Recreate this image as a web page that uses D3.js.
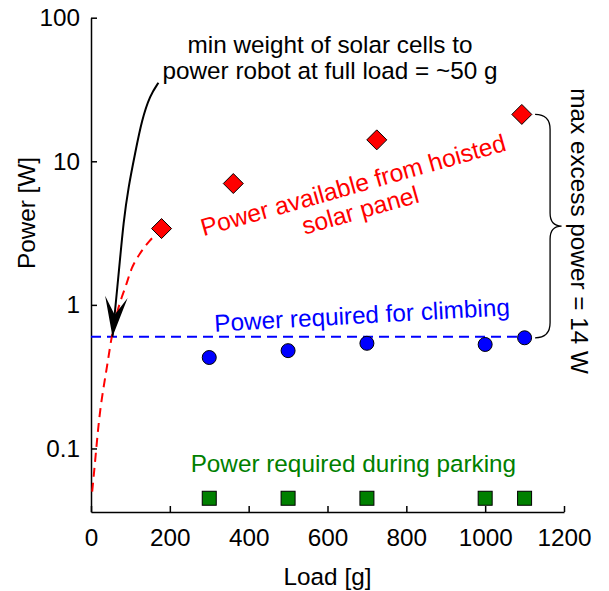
<!DOCTYPE html>
<html>
<head>
<meta charset="utf-8">
<script src="https://cdn.jsdelivr.net/npm/d3@7"></script>
<style>
  html, body { margin: 0; padding: 0; background: #fff; }
  svg text { font-family: "Liberation Sans", Arial, Helvetica, sans-serif; }
</style>
</head>
<body>
<svg id="chart" width="609" height="591"></svg>
<script>
// Solar panel power available vs. load (diamonds)
const solarLoad = [179, 361, 725, 1093];
const solarPower = [3.4, 7.0, 14.1, 21.2];

// Power drawn while climbing (circles) and the required level (dashed line)
const climbLoad = [300, 500, 700, 1000, 1100];
const climbPower = [0.43, 0.48, 0.54, 0.53, 0.59];
const climbLevelLoad = [0, 1100];
const climbLevelPower = [0.6, 0.6];

// Power drawn while parked (squares)
const parkLoad = [300, 500, 700, 1000, 1100];
const parkPower = [0.045, 0.045, 0.045, 0.045, 0.045];

// Solar output vs. solar cell weight (red dashed curve)
const curveLoad = [3, 10, 16, 23, 33, 42, 52, 65, 78, 91, 103, 124, 145, 179];
const curvePower = [0.05, 0.079, 0.12, 0.185, 0.28, 0.39, 0.6, 0.87, 1.14, 1.41, 1.84, 2.28, 2.75, 3.4];

// Axis ticks
const xTicks = [0, 200, 400, 600, 800, 1000, 1200];
const yTicks = [0.1, 1, 10, 100];
const yTickLabels = ["0.1", "1", "10", "100"];

// Callout arrow path (load [g], power [W]) ending at the crossing point
const arrowLoad = [171, 150, 129, 112, 95, 82.4, 72.3, 54.5];
const arrowPower = [35.2, 28.9, 19.4, 11.4, 6.64, 3.77, 1.89, 0.6];

const FONT = 24.3;
const svg = d3.select("#chart");

const x = d3.scaleLinear().domain([0, 1200]).range([91, 564]);
const y = d3.scaleLog().domain([0.0361, 100]).range([512, 17.7]);

// Axes (ticks point inward, no box)
const xAxis = d3.axisBottom(x).tickValues(xTicks).tickFormat(d3.format("d"))
  .tickSizeInner(-6).tickSizeOuter(0).tickPadding(17);
const yAxis = d3.axisLeft(y).tickValues(yTicks).tickFormat((d, i) => yTickLabels[i])
  .tickSizeInner(-6).tickSizeOuter(0).tickPadding(11);

const gx = svg.append("g").attr("transform", "translate(0,512)").call(xAxis);
const gy = svg.append("g").attr("transform", "translate(91,0)").call(yAxis);
[gx, gy].forEach(g => {
  g.selectAll("path, line").attr("stroke", "#000").attr("stroke-width", 1.5);
  g.selectAll("text").attr("fill", "#000").style("font-size", FONT + "px");
});

svg.append("text").attr("x", 327.5).attr("y", 585).attr("text-anchor", "middle")
  .style("font-size", FONT + "px").text("Load [g]");
svg.append("text").attr("transform", "translate(35,213) rotate(-90)")
  .attr("text-anchor", "middle").style("font-size", FONT + "px").text("Power [W]");

// Required climbing power level
const straight = d3.line().x(d => x(d[0])).y(d => y(d[1]));
svg.append("path")
  .datum(climbLevelLoad.map((l, i) => [l, climbLevelPower[i]]))
  .attr("d", straight).attr("fill", "none").attr("stroke", "#0000ff")
  .attr("stroke-width", 2).attr("stroke-dasharray", "10,6");

// Solar output curve
const smooth = d3.line().x(d => x(d[0])).y(d => y(d[1])).curve(d3.curveBasis);
svg.append("path")
  .datum(curveLoad.map((l, i) => [l, curvePower[i]]))
  .attr("d", smooth).attr("fill", "none").attr("stroke", "#ff0000")
  .attr("stroke-width", 2).attr("stroke-dasharray", "9,6");

// Markers
svg.append("g").selectAll("rect")
  .data(parkLoad.map((l, i) => [l, parkPower[i]]))
  .join("rect")
  .attr("x", d => x(d[0]) - 7).attr("y", d => y(d[1]) - 7)
  .attr("width", 14).attr("height", 14)
  .attr("fill", "#008000").attr("stroke", "#000").attr("stroke-width", 1);

svg.append("g").selectAll("circle")
  .data(climbLoad.map((l, i) => [l, climbPower[i]]))
  .join("circle")
  .attr("cx", d => x(d[0])).attr("cy", d => y(d[1])).attr("r", 7)
  .attr("fill", "#0000ff").attr("stroke", "#000").attr("stroke-width", 1);

svg.append("g").selectAll("path")
  .data(solarLoad.map((l, i) => [l, solarPower[i]]))
  .join("path")
  .attr("d", d => {
    const cx = x(d[0]), cy = y(d[1]), r = 10;
    return `M${cx},${cy - r}L${cx + r},${cy}L${cx},${cy + r}L${cx - r},${cy}Z`;
  })
  .attr("fill", "#ff0000").attr("stroke", "#000").attr("stroke-width", 1);

// Curved callout arrow
const arrowPts = arrowLoad.map((l, i) => [x(l), y(arrowPower[i])]);
svg.append("path")
  .attr("d", d3.line().curve(d3.curveBasis)(arrowPts))
  .attr("fill", "none").attr("stroke", "#000").attr("stroke-width", 2);
{
  const tip = arrowPts[arrowPts.length - 1];
  const prev = arrowPts[arrowPts.length - 2];
  const ang = Math.atan2(tip[1] - prev[1], tip[0] - prev[0]);
  const ux = Math.cos(ang), uy = Math.sin(ang), vx = -uy, vy = ux;
  const L = 40, W = 11.3, N = 22;
  const pts = [
    tip,
    [tip[0] - L * ux + W * vx, tip[1] - L * uy + W * vy],
    [tip[0] - N * ux, tip[1] - N * uy],
    [tip[0] - L * ux - W * vx, tip[1] - L * uy - W * vy]
  ];
  svg.append("path").attr("d", "M" + pts.join("L") + "Z").attr("fill", "#000");
}

// Brace spanning available vs. required power at max load
{
  const bx = x(1100);
  const yt = y(solarPower[3]), yb = y(climbPower[4]);
  const ym = (yt + yb) / 2;
  const x0 = bx + 10.5, x1 = bx + 25.5, x2 = bx + 37;
  const d = `M${x0},${yt} Q${x1},${yt} ${x1},${yt + 15} L${x1},${ym - 13} Q${x1},${ym} ${x2},${ym}` +
            ` Q${x1},${ym} ${x1},${ym + 13} L${x1},${yb - 15} Q${x1},${yb} ${x0},${yb}`;
  svg.append("path").attr("d", d).attr("fill", "none").attr("stroke", "#000").attr("stroke-width", 1.3);
  svg.append("text").attr("transform", `translate(${x2 + 9},${ym + 5}) rotate(90)`)
    .attr("text-anchor", "middle").style("font-size", FONT + "px").text("max excess power = 14 W");
}

// Annotations
const note = svg.append("text").attr("text-anchor", "middle").style("font-size", FONT + "px");
note.append("tspan").attr("x", 330).attr("y", 53.3).text("min weight of solar cells to");
note.append("tspan").attr("x", 330).attr("y", 79).text("power robot at full load = ~50 g");

const solarNote = svg.append("text").attr("text-anchor", "middle").attr("fill", "#ff0000")
  .style("font-size", "24.6px").attr("transform", "translate(355.5,193.3) rotate(-15.8)");
solarNote.append("tspan").attr("x", 0).attr("y", 0).text("Power available from hoisted");
solarNote.append("tspan").attr("x", 0).attr("y", 26).text("solar panel");

svg.append("text").attr("text-anchor", "middle").attr("fill", "#0000ff")
  .style("font-size", FONT + "px").attr("transform", "translate(362.5,323.4) rotate(-3.2)")
  .text("Power required for climbing");

svg.append("text").attr("text-anchor", "middle").attr("fill", "#008000")
  .style("font-size", FONT + "px").attr("x", 353.4).attr("y", 471.7)
  .text("Power required during parking");
</script>
</body>
</html>
